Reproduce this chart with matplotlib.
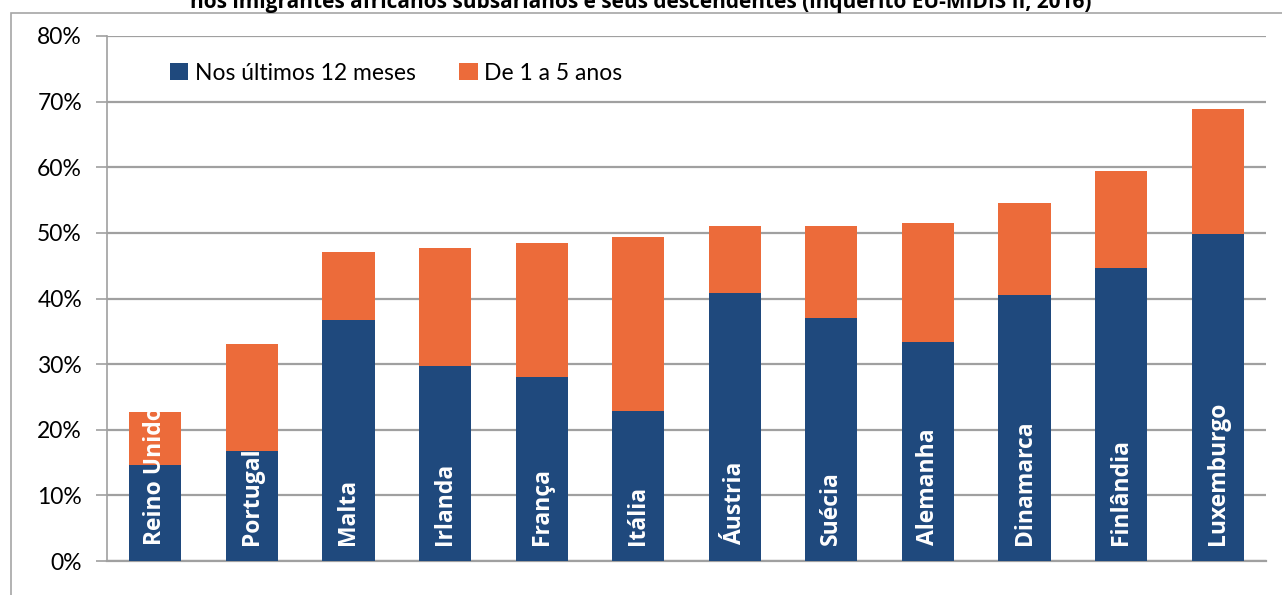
import matplotlib.pyplot as plt
from matplotlib.patches import Rectangle
from matplotlib.ticker import FuncFormatter

# Data (percent)
countries = ["Reino Unido", "Portugal", "Malta", "Irlanda", "França", "Itália",
             "Áustria", "Suécia", "Alemanha", "Dinamarca", "Finlândia", "Luxemburgo"]
last_12_months = [14.6, 16.7, 36.8, 29.7, 28.0, 22.8, 40.9, 37.1, 33.3, 40.6, 44.6, 49.8]
total_5_years = [22.7, 33.0, 47.1, 47.7, 48.4, 49.3, 51.0, 51.1, 51.5, 54.6, 59.5, 68.9]
one_to_five = [t - b for t, b in zip(total_5_years, last_12_months)]

series_names = ["Nos últimos 12 meses", "De 1 a 5 anos"]
title = "nos imigrantes africanos subsarianos e seus descendentes (inquérito EU-MIDIS II, 2016)"

BLUE = "#1F497D"
ORANGE = "#EC6B3A"
GRID = "#A0A0A0"

W, H = 1282, 595
fig = plt.figure(figsize=(W / 100, H / 100), dpi=100)

# outer frame of the chart object
fig.patches.append(Rectangle((11 / W, -0.05), 1.2, 1 - 13 / H + 0.05,
                             transform=fig.transFigure, fill=False,
                             edgecolor="#A6A6A6", linewidth=1.2))

# title, only its lower part is visible in the reference
fig.text(0.5, 1 - 8 / H, title, ha="center", va="baseline",
         fontsize=15, fontweight="bold", family="Open Sans", color="black")

ax = fig.add_axes([107 / W, 1 - 561 / H, (1266 - 107) / W, (561 - 36) / H])

x = range(len(countries))
width = 0.54
ax.bar(x, last_12_months, width, color=BLUE, label=series_names[0], zorder=3)
ax.bar(x, one_to_five, width, bottom=last_12_months, color=ORANGE,
       label=series_names[1], zorder=3)

for i, name in enumerate(countries):
    ax.annotate(name, (i, 0), xytext=(0, 11.5), textcoords="offset points",
                rotation=90, ha="center", va="bottom", color="white",
                fontsize=16.5, fontweight="bold", family="Open Sans", zorder=4)

ax.set_xlim(-0.5, len(countries) - 0.5)
ax.set_ylim(0, 80)
ax.set_yticks(range(0, 81, 10))
ax.yaxis.set_major_formatter(FuncFormatter(lambda v, p: f"{v:.0f}%"))
ax.set_xticks([])
ax.grid(axis="y", color=GRID, linewidth=1.6, zorder=0)
ax.tick_params(axis="y", length=8, width=1.2, color=GRID, pad=10, labelsize=16.5)
for lab in ax.get_yticklabels():
    lab.set_family("Lato")

for side in ["top", "right"]:
    ax.spines[side].set_visible(False)
ax.spines["left"].set_color(GRID)
ax.spines["left"].set_linewidth(1.2)
ax.spines["bottom"].set_color(GRID)
ax.spines["bottom"].set_linewidth(1.6)

leg = ax.legend(loc="center left", bbox_to_anchor=(149 / W, 1 - 73 / H),
                bbox_transform=fig.transFigure, ncol=2, frameon=False,
                handlelength=0.8, handleheight=0.8, handletextpad=0.3,
                columnspacing=1.9, prop={"family": "Lato", "size": 16.5})

fig.savefig("out.png", dpi=100)
